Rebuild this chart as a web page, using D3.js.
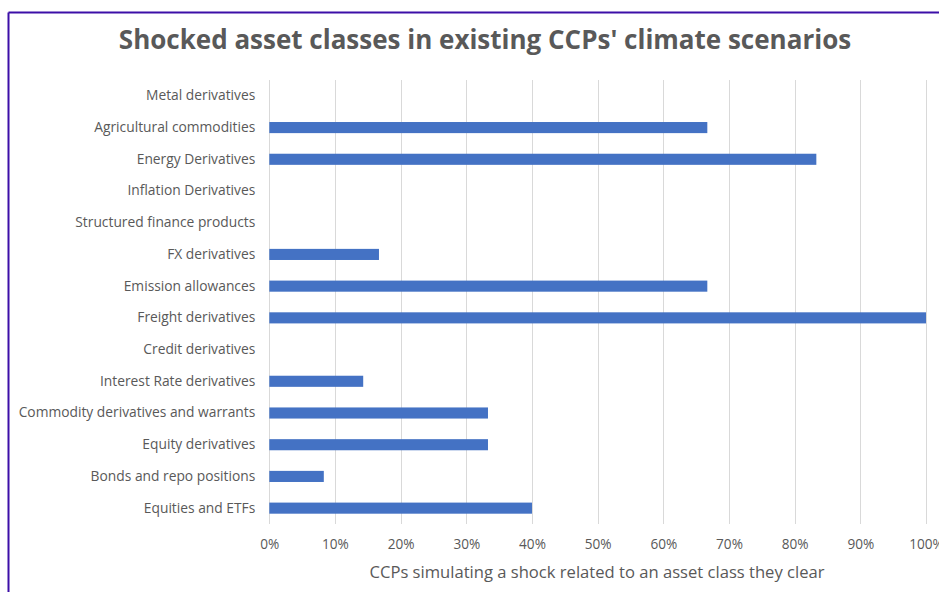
<!DOCTYPE html>
<html>
<head>
<meta charset="utf-8">
<script src="https://cdn.jsdelivr.net/npm/d3@7"></script>
<style>
  html, body { margin: 0; padding: 0; background: #fff; }
  svg { display: block; }
  text { font-family: "Open Sans", "Noto Sans", sans-serif; fill: #595959; }
</style>
</head>
<body>
<svg id="chart" width="939" height="592"></svg>
<script>
// Asset classes, top to bottom
const categories = [
  "Metal derivatives",
  "Agricultural commodities",
  "Energy Derivatives",
  "Inflation Derivatives",
  "Structured finance products",
  "FX derivatives",
  "Emission allowances",
  "Freight derivatives",
  "Credit derivatives",
  "Interest Rate derivatives",
  "Commodity derivatives and warrants",
  "Equity derivatives",
  "Bonds and repo positions",
  "Equities and ETFs"
];
// Share of CCPs simulating a shock for each asset class
const values = [0, 0.667, 0.833, 0, 0, 0.167, 0.667, 1.0, 0, 0.143, 0.333, 0.333, 0.083, 0.40];
const tickValues = [0, 0.1, 0.2, 0.3, 0.4, 0.5, 0.6, 0.7, 0.8, 0.9, 1.0];

const titleText = "Shocked asset classes in existing CCPs' climate scenarios";
const xAxisTitle = "CCPs simulating a shock related to an asset class they clear";

const svg = d3.select("#chart");
const margin = { left: 269.3, right: 13, top: 80, bottom: 68 };
const W = 939, H = 592;

const x = d3.scaleLinear().domain([0, 1]).range([margin.left, 926]);
const y = d3.scaleBand().domain(categories).range([margin.top, H - margin.bottom]).paddingInner(0.65).paddingOuter(0.325);

// frame lines (top and left edges)
svg.append("line").attr("x1", 8.5).attr("x2", W).attr("y1", 12.5).attr("y2", 12.5)
  .attr("stroke", "#3c0fa8").attr("stroke-width", 2);
svg.append("line").attr("x1", 8.5).attr("x2", 8.5).attr("y1", 12.5).attr("y2", H)
  .attr("stroke", "#3c0fa8").attr("stroke-width", 2);

// title
svg.append("text")
  .attr("x", 485).attr("y", 49)
  .attr("text-anchor", "middle")
  .style("font-size", "26px").style("font-weight", "bold")
  .text(titleText);

// vertical gridlines
svg.append("g").selectAll("line").data(tickValues).join("line")
  .attr("x1", d => Math.round(x(d)) + 0.5).attr("x2", d => Math.round(x(d)) + 0.5)
  .attr("y1", margin.top).attr("y2", H - margin.bottom)
  .attr("stroke", "#d9d9d9").attr("stroke-width", 1);

// bars
svg.append("g").selectAll("rect").data(values).join("rect")
  .attr("x", x(0))
  .attr("y", (d, i) => y(categories[i]))
  .attr("width", d => x(d) - x(0))
  .attr("height", y.bandwidth())
  .attr("fill", "#4472c4");

// category labels
const yAxis = d3.axisLeft(y).tickSize(0).tickPadding(14);
svg.append("g").attr("transform", `translate(${x(0)},0)`).call(yAxis)
  .call(g => g.select(".domain").remove())
  .selectAll("text").style("font-size", "13.8px").attr("fill", "#595959");

// x tick labels
const xAxis = d3.axisBottom(x).tickValues(tickValues).tickFormat(d3.format(".0%")).tickSize(0).tickPadding(15);
svg.append("g").attr("transform", `translate(0,${H - margin.bottom})`).call(xAxis)
  .call(g => g.select(".domain").remove())
  .selectAll("text").style("font-size", "13.6px").attr("fill", "#595959");

// x axis title
svg.append("text")
  .attr("x", 597).attr("y", 578)
  .attr("text-anchor", "middle")
  .style("font-size", "16.6px")
  .text(xAxisTitle);
</script>
</body>
</html>
